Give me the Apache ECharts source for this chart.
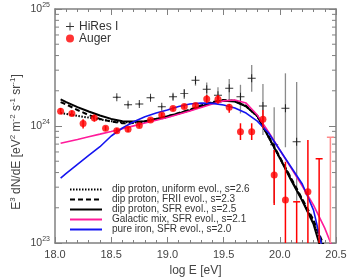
<!DOCTYPE html>
<html><head><meta charset="utf-8">
<script src="https://cdn.jsdelivr.net/npm/echarts@6/dist/echarts.min.js"></script>
<style>html,body{margin:0;padding:0;background:#fff}#c{width:357px;height:277px}</style>
</head><body><div id="c"></div>
<script>
// ---------- data (flux values in units of 1e24 eV^2 m^-2 s^-1 sr^-1) ----------
const FONT = 'Liberation Sans';
const xTickLabels = ['18.0','18.5','19.0','19.5','20.0','20.5'];
const yTickExponents = [23, 24, 25];
const yMinorMantissas = [2,3,4,5,6,7,8,9];

const curveLogE = [18.05,18.1,18.2,18.3,18.4,18.5,18.6,18.7,18.8,18.9,19.0,19.1,19.2,19.3,19.4,19.5,19.6,19.7,19.8,19.9,20.0,20.1,20.2,20.3,20.4,20.5];
const dipUniform = [1.29,1.27,1.22,1.18,1.14,1.10,1.08,1.07,1.09,1.14,1.19,1.28,1.37,1.48,1.59,1.65,1.64,1.48,1.21,0.805,0.533,0.352,0.233,0.151,0.087,0.05];
const dipFRII    = [1.60,1.53,1.37,1.24,1.15,1.09,1.055,1.06,1.09,1.15,1.21,1.29,1.38,1.50,1.60,1.67,1.64,1.48,1.22,0.821,0.543,0.359,0.238,0.157,0.091,0.052];
const dipSFR     = [1.69,1.60,1.45,1.33,1.23,1.15,1.10,1.09,1.10,1.15,1.21,1.28,1.36,1.47,1.57,1.64,1.62,1.47,1.22,0.805,0.533,0.346,0.229,0.145,0.069,0.035];
const galacticMix= [0.711,0.730,0.768,0.810,0.852,0.897,0.948,1.002,1.059,1.119,1.18,1.262,1.343,1.439,1.54,1.64,1.67,1.57,1.24,0.889,0.623,0.438,0.307,0.211,0.134,0.077];
const pureIron   = [0.359,0.393,0.471,0.560,0.665,0.821,0.961,1.088,1.20,1.29,1.37,1.47,1.54,1.57,1.56,1.51,1.425,1.29,1.10,0.871,0.623,0.446,0.319,0.191,0.074,0.03];

const augerLogE = [18.05,18.15,18.25,18.35,18.45,18.55,18.65,18.75,18.85,18.95,19.05,19.15,19.25,19.35,19.45,19.55,19.65,19.75,19.85,19.95,20.05,20.25];
const augerFlux = [1.34,1.28,1.05,1.17,0.956,0.912,0.937,1.01,1.125,1.24,1.41,1.47,1.50,1.70,1.69,1.445,0.894,0.894,1.14,0.381,0.233,0.274];
const augerHi   = [1.42,1.36,1.14,1.25,1.00,0.96,0.98,1.05,1.17,1.29,1.47,1.53,1.56,1.84,1.84,1.54,1.055,1.055,1.37,0.623,0.495,0.759];
const augerLo   = [1.27,1.21,0.95,1.09,0.91,0.87,0.89,0.97,1.08,1.19,1.35,1.41,1.44,1.57,1.55,1.30,0.759,0.759,0.956,0.211,0.001,0.001];
const augerLimitLogE = [20.15,20.35,20.45];
const augerLimitTop  = [0.225,0.525,0.801];
const augerLimitLow  = [0.001,0.001,0.001];

const hiresLogE = [18.55,18.65,18.75,18.85,18.95,19.05,19.15,19.25,19.35,19.45,19.55,19.65,19.75,19.85,19.95,20.05,20.15];
const hiresFlux = [1.76,1.52,1.54,1.745,1.46,1.78,1.90,2.46,2.06,1.83,2.10,1.78,2.56,1.48,0.69,1.42,0.734];
const hiresHi   = [1.80,1.56,1.58,1.79,1.50,1.88,2.07,2.68,2.35,2.14,2.52,2.25,3.32,2.29,1.445,2.82,2.38];
const hiresLo   = [1.72,1.48,1.50,1.70,1.42,1.68,1.70,2.21,1.67,1.58,1.67,1.28,1.965,0.838,0.22,0.658,0.23];

const seriesNames = ['dip proton, uniform evol., s=2.6','dip proton, FRII evol., s=2.3','dip proton, SFR evol., s=2.5','Galactic mix, SFR evol., s=2.1','pure iron, SFR evol., s=2.0'];

// ---------- build ----------
const U = 1e24;
const xMin = 18, xMax = 20.5;
const pair = (xs, ys) => xs.map((x, i) => [x, ys[i] * U]);
const bars = (xs, lo, hi) => xs.map((x, i) => [x, lo[i] * U, hi[i] * U]);

function errRender(color, width, cap) {
  return function (params, api) {
    const x = api.value(0);
    const a = api.coord([x, api.value(2)]);
    const b = api.coord([x, api.value(1)]);
    const c = typeof color === 'function' ? color(params.dataIndex) : color;
    const ch = [{ type: 'line', shape: { x1: a[0], y1: a[1], x2: b[0], y2: b[1] }, style: { stroke: c, lineWidth: width } }];
    if (cap) ch.push({ type: 'line', shape: { x1: a[0] - cap, y1: a[1], x2: a[0] + cap, y2: a[1] }, style: { stroke: c, lineWidth: width } });
    return { type: 'group', children: ch };
  };
}

const minorVals = [];
yTickExponents.slice(0, -1).forEach(e => yMinorMantissas.forEach(m => minorVals.push([xMin, m * Math.pow(10, e)])));

const axisColor = '#808080';
const lineCurve = (name, data, color, width, type, z) => ({
  name, type: 'line', data: pair(curveLogE, data), showSymbol: false, symbol: 'none',
  lineStyle: { color, width, type }, itemStyle: { color }, z, clip: true, animation: false, silent: true
});

const crossPath = 'path://M-0.12,-1 L0.12,-1 L0.12,-0.12 L1,-0.12 L1,0.12 L0.12,0.12 L0.12,1 L-0.12,1 L-0.12,0.12 L-1,0.12 L-1,-0.12 L-0.12,-0.12 Z';

const xAxisBase = {
  type: 'value', min: xMin, max: xMax, interval: 0.5,
  axisLine: { show: true, onZero: false, lineStyle: { color: axisColor, width: 1.5 } },
  axisTick: { show: true, inside: true, length: 6, lineStyle: { color: axisColor, width: 1 } },
  minorTick: { show: true, splitNumber: 5, length: 3, lineStyle: { color: axisColor, width: 1 } },
  splitLine: { show: false }, minorSplitLine: { show: false }
};
const yAxisBase = {
  type: 'log', logBase: 10, min: 1e23, max: 1e25,
  axisLine: { show: true, onZero: false, lineStyle: { color: axisColor, width: 1.5 } },
  axisTick: { show: true, inside: true, length: 7, lineStyle: { color: axisColor, width: 1 } },
  splitLine: { show: false }
};

const option = {
  animation: false,
  backgroundColor: '#fff',
  textStyle: { fontFamily: FONT },
  grid: { left: 55, right: 21, top: 9, bottom: 34, outerBoundsMode: 'none', containLabel: false },
  xAxis: [
    Object.assign({}, xAxisBase, {
      position: 'bottom',
      axisLabel: { show: true, fontSize: 11, color: '#444', margin: 6, fontFamily: FONT,
        formatter: v => xTickLabels[Math.round((v - xMin) / 0.5)] || '', showMinLabel: true, showMaxLabel: true },
      name: 'log E [eV]', nameLocation: 'middle', nameGap: 17,
      nameTextStyle: { fontSize: 12, color: '#444', fontFamily: FONT }
    }),
    Object.assign({}, xAxisBase, { position: 'top', axisLabel: { show: false } })
  ],
  yAxis: [
    Object.assign({}, yAxisBase, {
      position: 'left',
      axisLabel: { show: true, margin: 5, color: '#444', fontSize: 10.5, lineHeight: 14, fontFamily: FONT,
        showMinLabel: true, showMaxLabel: true,
        formatter: v => { const e = Math.round(Math.log10(v)); return yTickExponents.indexOf(e) >= 0 ? '10{s|' + e + '}' : ''; },
        rich: { s: { fontSize: 7, lineHeight: 7, verticalAlign: 'top', color: '#444', fontFamily: FONT } } }
    }),
    Object.assign({}, yAxisBase, { position: 'right', axisLabel: { show: false } })
  ],
  graphic: [{
    type: 'text', x: 17, y: 142, rotation: Math.PI / 2, silent: true,
    style: {
      text: 'E{s|3} dN/dE [eV{s|2} m{s|-2} s{s|-1} sr{s|-1}]',
      fill: '#444', fontSize: 12, lineHeight: 16, fontFamily: FONT, align: 'center', verticalAlign: 'middle',
      rich: { s: { fontSize: 8, lineHeight: 8, verticalAlign: 'top', fill: '#444', fontFamily: FONT } }
    }
  }],
  legend: [{
    data: [{ name: 'HiRes I', icon: crossPath }, { name: 'Auger', icon: 'circle' }],
    orient: 'vertical', left: 66, top: 20.5, padding: 0, itemGap: 0, itemWidth: 8, itemHeight: 8,
    selectedMode: false, textStyle: { fontSize: 12, lineHeight: 10.3, color: '#333', fontFamily: FONT }
  }, {
    data: seriesNames, orient: 'vertical', left: 69, top: 184.5, padding: 0, itemGap: 0, itemWidth: 32, itemHeight: 2,
    itemStyle: { color: 'rgba(0,0,0,0)', borderColor: 'rgba(0,0,0,0)', borderWidth: 0, opacity: 0 },
    selectedMode: false, textStyle: { fontSize: 10, lineHeight: 9.5, color: '#333', fontFamily: FONT, padding: [0, 0, 0, 5] }
  }],
  series: [
    { type: 'custom', name: 'yminor', data: minorVals, silent: true, z: 1,
      renderItem: (params, api) => {
        const v = api.value(1);
        const l = api.coord([xMin, v]), r = api.coord([xMax, v]);
        return { type: 'group', children: [
          { type: 'line', shape: { x1: l[0], y1: l[1], x2: l[0] + 4, y2: l[1] }, style: { stroke: axisColor, lineWidth: 1 } },
          { type: 'line', shape: { x1: r[0] - 4, y1: r[1], x2: r[0], y2: r[1] }, style: { stroke: axisColor, lineWidth: 1 } }
        ] };
      } },
    { type: 'custom', name: 'hiresErr', data: bars(hiresLogE, hiresLo, hiresHi), clip: true, silent: true, z: 2,
      renderItem: errRender('#8a8a8a', 1.3, 0) },
    { type: 'scatter', name: 'HiRes I', data: pair(hiresLogE, hiresFlux), symbol: crossPath, symbolSize: 8,
      itemStyle: { color: '#000' }, z: 3, silent: true, clip: true },
    lineCurve(seriesNames[0], dipUniform, '#000', 2, [1.5, 1.5], 4),
    lineCurve(seriesNames[1], dipFRII, '#000', 2, [5, 3], 4),
    lineCurve(seriesNames[2], dipSFR, '#000', 2, 'solid', 4),
    lineCurve(seriesNames[3], galacticMix, '#ff1a9a', 1.6, 'solid', 5),
    lineCurve(seriesNames[4], pureIron, '#1414f0', 1.6, 'solid', 5),
    { type: 'custom', name: 'augerErr', data: bars(augerLogE, augerLo, augerHi), clip: true, silent: true, z: 6,
      renderItem: errRender('#ff0000', 1.5, 0) },
    { type: 'custom', name: 'augerLim', data: bars(augerLimitLogE, augerLimitLow, augerLimitTop), clip: true, silent: true, z: 6,
      renderItem: errRender(i => i === 2 ? '#ff8a8a' : '#ff0000', 1.5, 3.5) },
    { type: 'scatter', name: 'Auger', data: pair(augerLogE, augerFlux), symbol: 'circle', symbolSize: 7,
      itemStyle: { color: '#ff0000' }, z: 7, silent: true, clip: true }
  ]
};

const chart = echarts.init(document.getElementById('c'), null, { renderer: 'canvas' });
chart.setOption(option);
</script>
</body></html>
